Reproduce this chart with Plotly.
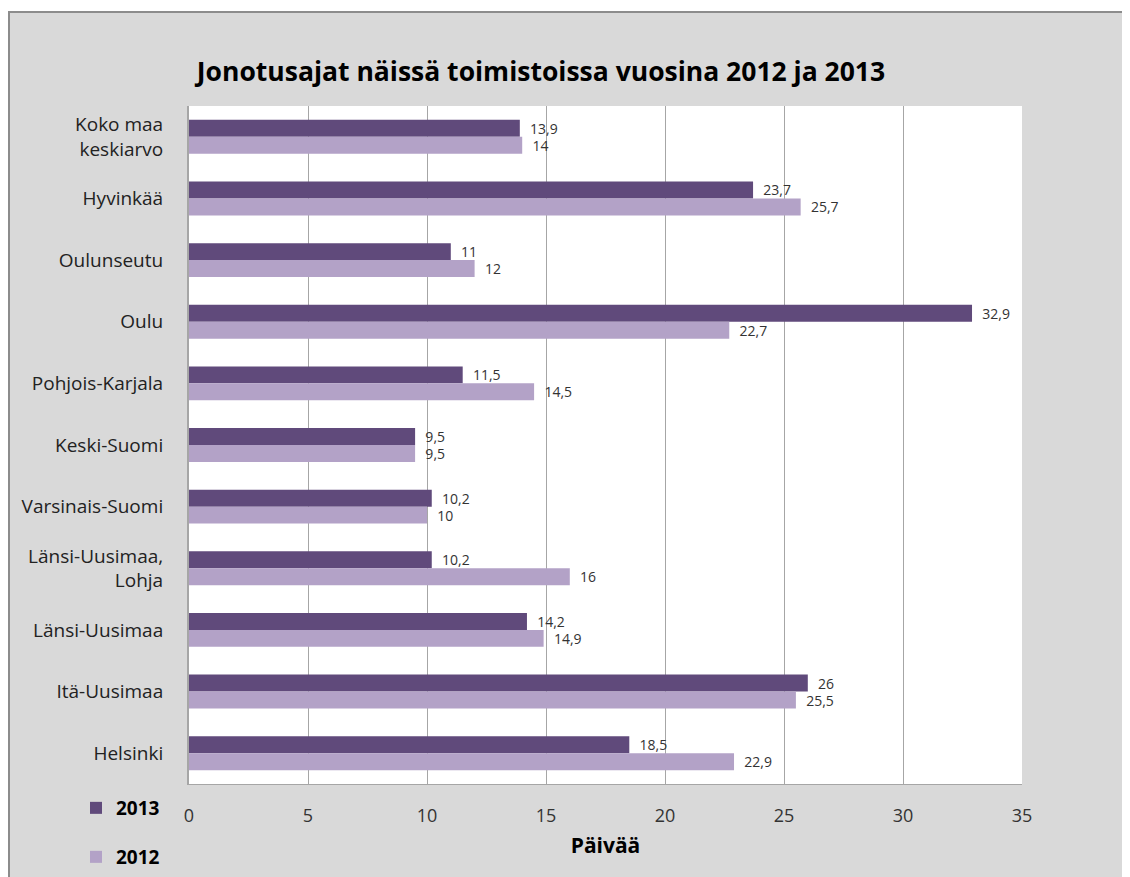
import plotly.graph_objects as go

categories = ["Koko maa<br>keskiarvo", "Hyvinkää", "Oulunseutu", "Oulu", "Pohjois-Karjala",
              "Keski-Suomi", "Varsinais-Suomi", "Länsi-Uusimaa,<br>Lohja", "Länsi-Uusimaa",
              "Itä-Uusimaa", "Helsinki"]
values_2013 = [13.9, 23.7, 11, 32.9, 11.5, 9.5, 10.2, 10.2, 14.2, 26, 18.5]
values_2012 = [14, 25.7, 12, 22.7, 14.5, 9.5, 10, 16, 14.9, 25.5, 22.9]
x_ticks = [0, 5, 10, 15, 20, 25, 30, 35]

# page has an 8px body margin; figure coordinates = page coordinates - 8
OFF = 8
W, H = 1130 - OFF, 877 - OFF
L, R, T, B = 189 - OFF, 1022 - OFF, 106 - OFF, 784 - OFF

def px(x):
    return (x - OFF - L) / (R - L)

def py(y):
    return (B - (y - OFF)) / (B - T)

def lab(vals):
    return ["\u00a0\u00a0" + f"{v:g}".replace(".", ",") for v in vals]

FONT = "Open Sans"
c13, c12 = "#604a7b", "#b3a2c7"

fig = go.Figure()
fig.add_trace(go.Bar(y=categories, x=values_2013, orientation="h", name="<b>2013</b>",
                     marker=dict(color=c13, line=dict(width=0)), text=lab(values_2013),
                     textposition="outside", constraintext="none", cliponaxis=False,
                     textfont=dict(size=14, color="#333333", family=FONT), legend="legend"))
fig.add_trace(go.Bar(y=categories, x=values_2012, orientation="h", name="<b>2012</b>",
                     marker=dict(color=c12, line=dict(width=0)), text=lab(values_2012),
                     textposition="outside", constraintext="none", cliponaxis=False,
                     textfont=dict(size=14, color="#333333", family=FONT), legend="legend2"))

shapes = [
    dict(type="rect", xref="paper", yref="paper", x0=px(-20), x1=px(1200), y0=py(12), y1=py(-20),
         fillcolor="white", line=dict(width=0), layer="below"),
    dict(type="rect", xref="paper", yref="paper", x0=px(-20), x1=px(8), y0=py(900), y1=py(-20),
         fillcolor="white", line=dict(width=0), layer="below"),
    dict(type="line", xref="paper", yref="paper", x0=px(8), x1=px(1200), y0=py(12), y1=py(12),
         line=dict(color="#8c8c8c", width=2), layer="below"),
    dict(type="line", xref="paper", yref="paper", x0=px(9), x1=px(9), y0=py(12), y1=py(900),
         line=dict(color="#8c8c8c", width=2), layer="below"),
]

fig.update_layout(
    width=W, height=H,
    margin=dict(l=L, r=W - R, t=T, b=H - B, autoexpand=False),
    paper_bgcolor="#d9d9d9", plot_bgcolor="white",
    barmode="group", bargap=0.45, bargroupgap=0,
    font=dict(family=FONT, color="#222222"),
    showlegend=True,
    title=dict(text="<b>Jonotusajat näissä toimistoissa vuosina 2012 ja 2013</b>",
               x=(541 - OFF) / W, xanchor="center", y=1 - (72 - OFF) / H, yanchor="middle",
               font=dict(size=26.5, color="black", family=FONT)),
    xaxis=dict(range=[0, 35], tickvals=x_ticks, showgrid=True, gridcolor="#a6a6a6", gridwidth=1,
               showline=True, linecolor="#a6a6a6", linewidth=1, zeroline=False,
               tickfont=dict(size=18, color="#333333"), ticklabelstandoff=15,
               title=dict(text="<b>Päivää</b>", font=dict(size=21, color="black"), standoff=12)),
    yaxis=dict(autorange="reversed", showline=True, linecolor="#a6a6a6", linewidth=2,
               tickfont=dict(size=19, color="#222222"), ticklabelstandoff=20),
    legend=dict(x=px(76), y=py(808), xanchor="left", yanchor="middle", bgcolor="rgba(0,0,0,0)",
                font=dict(size=19, color="black", family=FONT)),
    legend2=dict(x=px(76), y=py(857), xanchor="left", yanchor="middle", bgcolor="rgba(0,0,0,0)",
                 font=dict(size=19, color="black", family=FONT)),
    shapes=shapes,
    separators=", ",
)

fig.write_html("out.html")
